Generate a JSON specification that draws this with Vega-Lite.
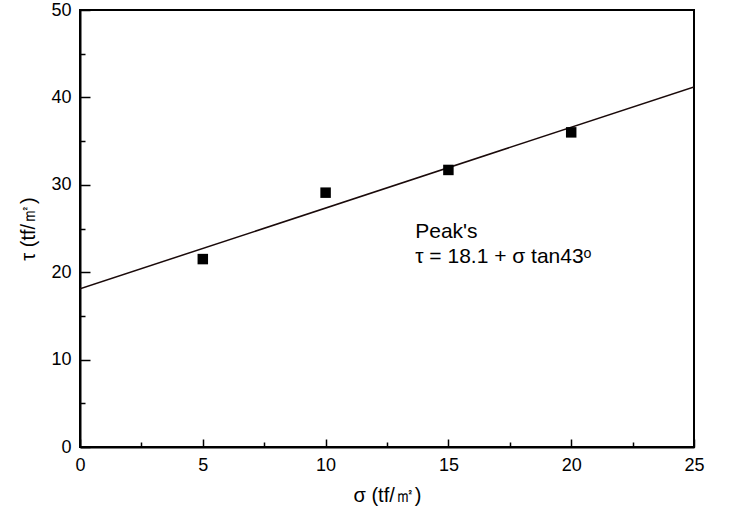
{
  "$schema": "https://vega.github.io/schema/vega-lite/v6.json",
  "autosize": {"type": "none"},
  "padding": {"left": 80, "top": 10, "right": 50, "bottom": 76},
  "width": 614,
  "height": 437,
  "background": "white",
  "config": {
    "view": {"stroke": "black", "strokeWidth": 2},
    "font": "Liberation Sans",
    "axis": {
      "domain": true,
      "domainColor": "black",
      "domainWidth": 2,
      "grid": false,
      "tickColor": "black",
      "tickWidth": 1.5,
      "labelFont": "Liberation Sans",
      "labelFontSize": 18,
      "labelColor": "black",
      "titleFont": "Liberation Sans",
      "titleFontSize": 20,
      "titleFontWeight": "normal",
      "titleColor": "black"
    }
  },
  "datasets": {
    "pts": [
      {"sigma": 5, "tau": 21.5},
      {"sigma": 10, "tau": 29.1},
      {"sigma": 15, "tau": 31.7},
      {"sigma": 20, "tau": 36.0}
    ],
    "fit": [
      {"sigma": 0, "tau": 18.1},
      {"sigma": 25, "tau": 41.2}
    ]
  },
  "layer": [
    {
      "data": {"name": "fit"},
      "mark": {"type": "line", "color": "#1a0a0a", "strokeWidth": 1.5, "clip": true},
      "encoding": {
        "x": {
          "field": "sigma", "type": "quantitative",
          "scale": {"domain": [0, 25], "nice": false, "zero": false},
          "axis": {
            "title": "σ (tf/㎡)",
            "values": [0, 2.5, 5, 7.5, 10, 12.5, 15, 17.5, 20, 22.5, 25],
            "labelExpr": "datum.value % 5 === 0 ? datum.label : ''",
            "tickSize": {"condition": {"test": "datum.value % 5 === 0", "value": -8}, "value": -5},
            "labelPadding": 17,
            "titlePadding": 11,
            "labelFlush": false
          }
        },
        "y": {
          "field": "tau", "type": "quantitative",
          "scale": {"domain": [0, 50], "nice": false, "zero": false},
          "axis": {
            "title": "τ (tf/㎡)",
            "values": [0, 5, 10, 15, 20, 25, 30, 35, 40, 45, 50],
            "labelExpr": "datum.value % 10 === 0 ? datum.label : ''",
            "tickSize": {"condition": {"test": "datum.value % 10 === 0", "value": -10}, "value": -5},
            "labelPadding": 19,
            "titlePadding": 12,
            "labelFlush": false
          }
        }
      }
    },
    {
      "data": {"name": "pts"},
      "mark": {"type": "point", "shape": "square", "filled": true, "color": "black", "size": 110, "opacity": 1},
      "encoding": {
        "x": {"field": "sigma", "type": "quantitative"},
        "y": {"field": "tau", "type": "quantitative"}
      }
    },
    {
      "data": {"values": [{"label": ["Peak's", "τ = 18.1 + σ tan43ᵒ"]}]},
      "mark": {"type": "text", "align": "left", "baseline": "top", "fontSize": 21, "font": "Liberation Sans", "color": "black", "lineHeight": 25},
      "encoding": {
        "x": {"datum": 13.65},
        "y": {"datum": 25.9},
        "text": {"field": "label"}
      }
    }
  ]
}
